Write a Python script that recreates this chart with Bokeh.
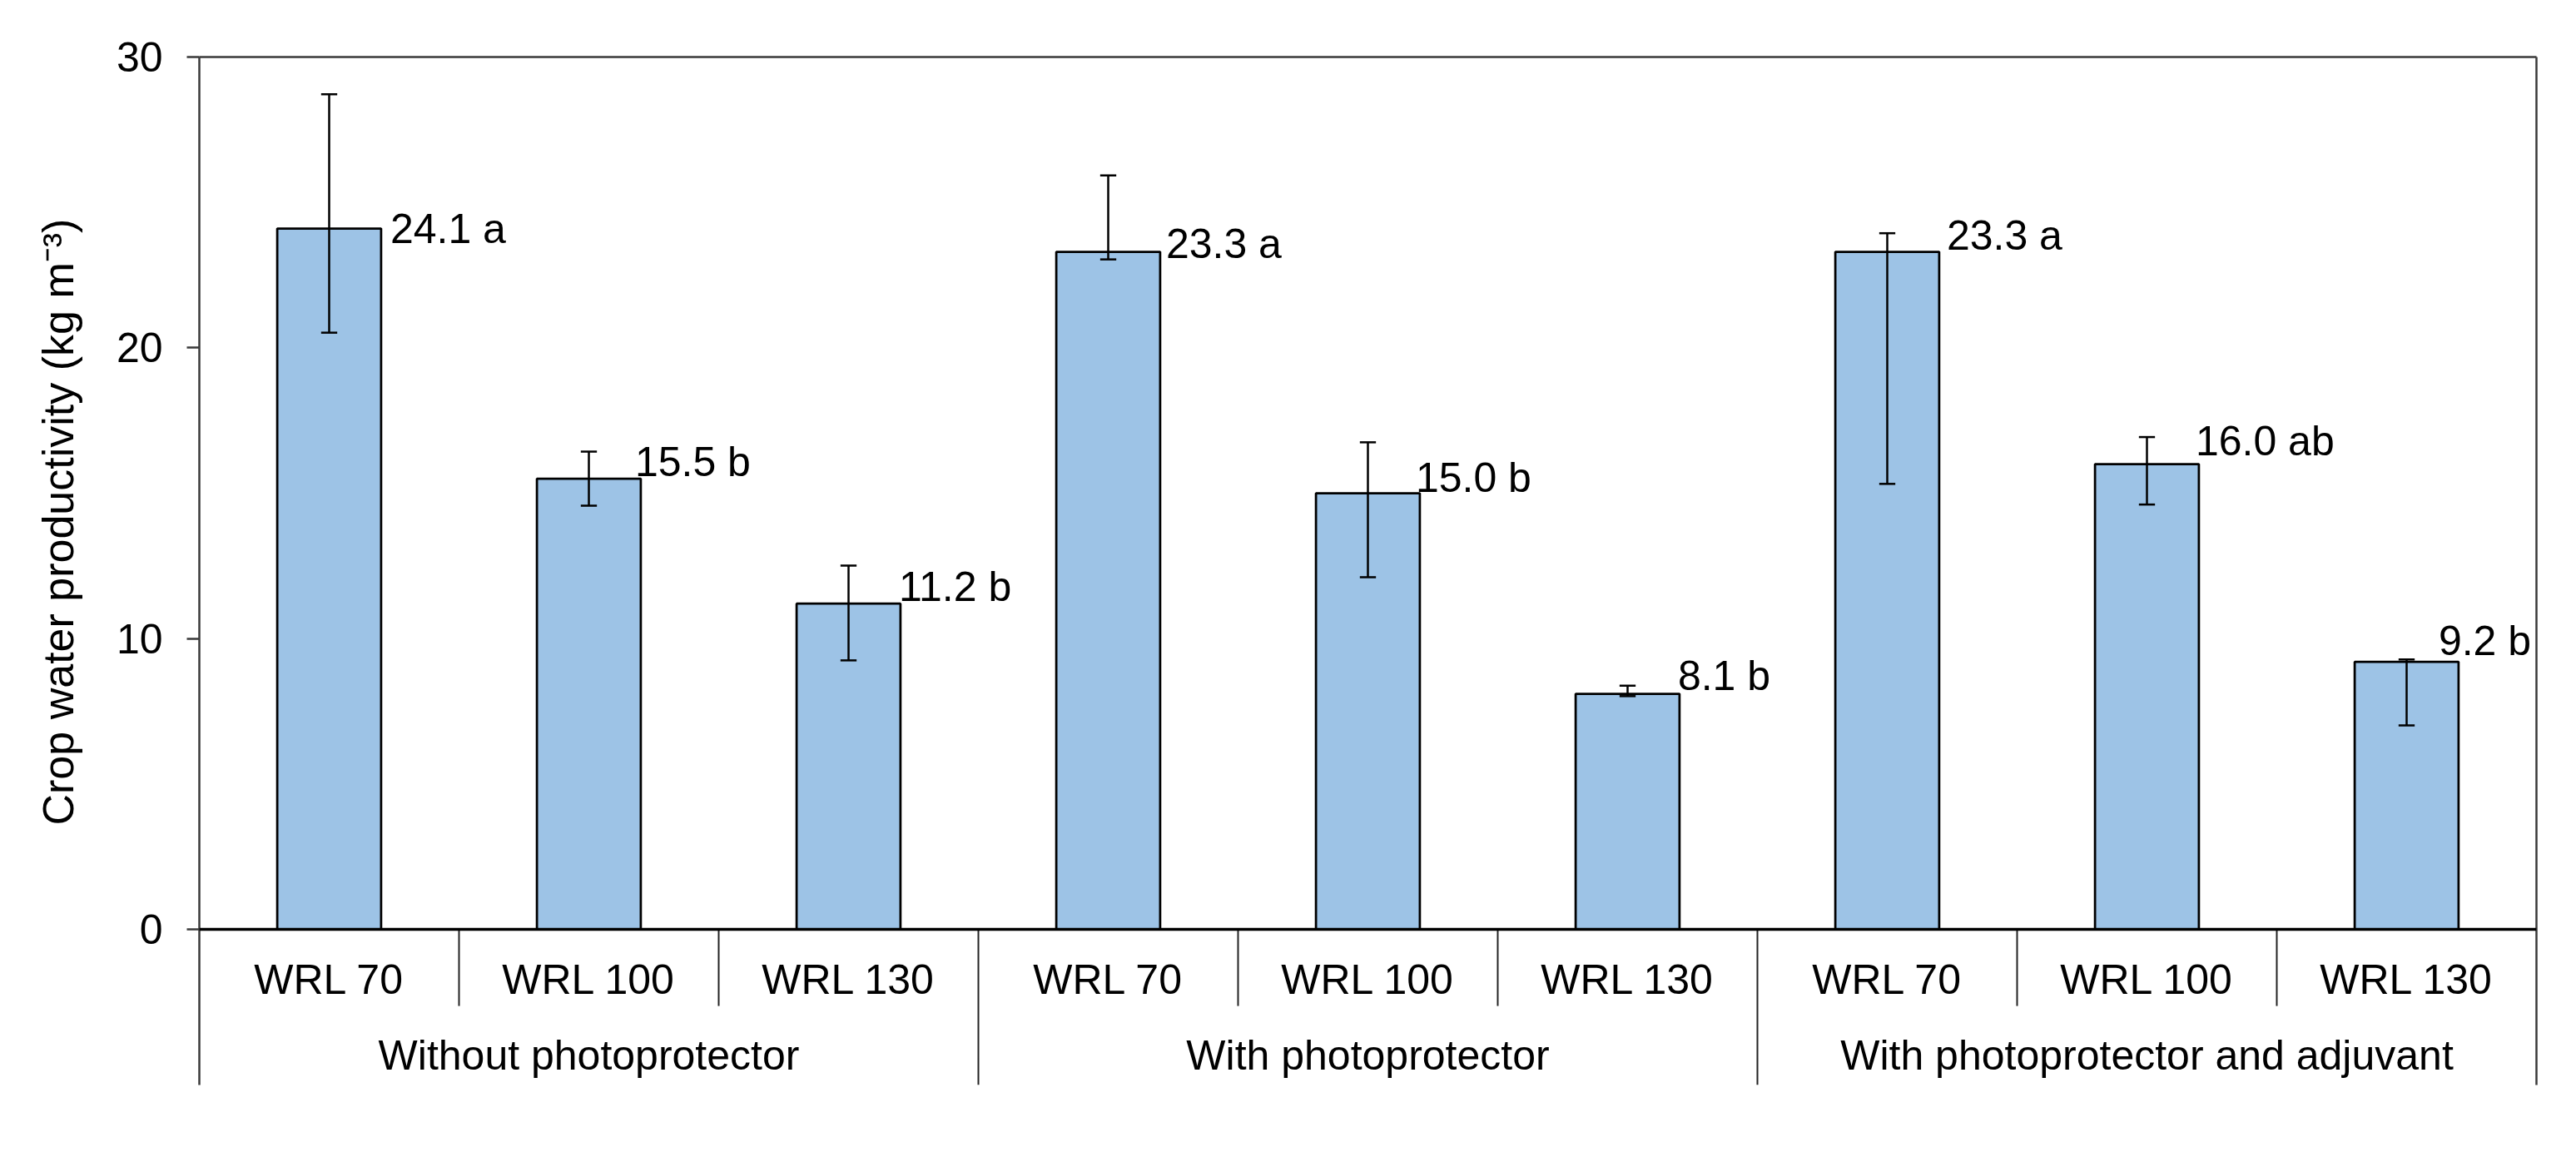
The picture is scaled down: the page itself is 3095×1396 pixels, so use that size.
from bokeh.plotting import figure
from bokeh.models import Range1d, LinearAxis, FixedTicker, Span, Title
from bokeh.core.properties import value
from bokeh.embed import file_html
from bokeh.resources import INLINE

# ---------------- data ----------------
groups = ["Without photoprotector", "With photoprotector",
          "With photoprotector and adjuvant"]
levels = ["WRL 70", "WRL 100", "WRL 130"]
means = [24.1, 15.5, 11.2, 23.3, 15.0, 8.1, 23.3, 16.0, 9.2]
err_high = [28.72, 16.43, 12.51, 25.93, 16.75, 8.38, 23.94, 16.93, 9.28]
err_low = [20.52, 14.57, 9.25, 23.04, 12.11, 8.02, 15.32, 14.61, 7.01]
letters = ["a", "b", "b", "a", "b", "b", "a", "ab", "b"]
y_ticks = [0, 10, 20, 30]
y_label = "Crop water productivity (kg m\u207b\u00b3)"

# ---------------- styles / layout ----------------
FONT = "Liberation Sans"
FS = "50px"
BAR_FILL = "#9DC3E6"
AX_COL = "#3a3a3a"
n_lev = len(levels)
n = len(groups) * n_lev
xc = [i + 0.5 for i in range(n)]
BAR_W = 0.4
CAP = 0.031
Y_TOP = 30
Y_BOT = -5.353        # bottom of the category table
SEP_IN = -2.635       # inner separator length
SUB_Y = -1.732        # centre of WRL labels
GRP_Y = -4.35         # centre of group labels
# label hand placement (pixels): offset from bar right edge / bar top
lab_dx = [11, -7, -2, 7, -5, -2, 9, -4, -24]
lab_dy = [0, -20, -20, -10, -19, -22, -20, -28, -25]

p = figure(frame_width=2808, frame_height=1235,
           min_border_left=238, min_border_right=41,
           min_border_top=68, min_border_bottom=85,
           x_range=Range1d(0, n), y_range=Range1d(Y_BOT, Y_TOP),
           x_axis_type=None, y_axis_type=None,
           output_backend="svg", toolbar_location=None)
p.outline_line_color = None
p.background_fill_color = "white"
p.border_fill_color = "white"

# left axis (ticks 0..30, line spans whole frame)
yax = LinearAxis(ticker=FixedTicker(ticks=y_ticks, minor_ticks=[]),
                 axis_line_color=AX_COL, axis_line_width=2.5,
                 major_tick_line_color=AX_COL, major_tick_line_width=2.5,
                 major_tick_in=0, major_tick_out=15,
                 minor_tick_line_color=None,
                 major_label_text_font=FONT, major_label_text_font_size=FS,
                 major_label_text_color="black", major_label_standoff=29)
p.add_layout(yax, "left")

# y axis title
p.add_layout(Title(text=y_label, align="left", offset=312, standoff=76,
                   vertical_align="bottom", text_font=FONT,
                   text_font_size="52px", text_font_style="normal",
                   text_color="black"), "left")

# right and top frame lines
for side in ("right", "above"):
    ax = LinearAxis(ticker=FixedTicker(ticks=[], minor_ticks=[]),
                    axis_line_color=AX_COL, axis_line_width=2.5,
                    major_tick_line_color=None, minor_tick_line_color=None,
                    major_label_text_font_size="0px")
    p.add_layout(ax, side)

# bars
p.vbar(x=xc, top=means, bottom=0, width=BAR_W, fill_color=BAR_FILL,
       line_color="black", line_width=2.75)

# error bars
p.segment(x0=xc, y0=err_low, x1=xc, y1=err_high, line_color="black", line_width=2.5)
p.segment(x0=[x - CAP for x in xc], y0=err_high, x1=[x + CAP for x in xc], y1=err_high,
          line_color="black", line_width=2.5)
p.segment(x0=[x - CAP for x in xc], y0=err_low, x1=[x + CAP for x in xc], y1=err_low,
          line_color="black", line_width=2.5)

# zero line
p.add_layout(Span(location=0, dimension="width", line_color="black", line_width=3.5))

# category table separators
bx, by0, by1 = [], [], []
for i in range(1, n):
    bx.append(i)
    by0.append(0)
    by1.append(Y_BOT if i % n_lev == 0 else SEP_IN)
p.segment(x0=bx, y0=by0, x1=bx, y1=by1, line_color="#222222", line_width=2)

# category labels
p.text(x=xc, y=[SUB_Y] * n, text=levels * len(groups), text_align="center",
       text_baseline="middle", text_font=value(FONT), text_font_size=FS,
       text_color="black")
gx = [g * n_lev + n_lev / 2 for g in range(len(groups))]
p.text(x=gx, y=[GRP_Y] * len(groups), text=groups, text_align="center",
       text_baseline="middle", text_font=value(FONT), text_font_size=FS,
       text_color="black")

# value labels
p.text(x=[x + BAR_W / 2 for x in xc], y=means,
       text=[f"{m:.1f} {l}" for m, l in zip(means, letters)],
       x_offset=lab_dx, y_offset=lab_dy,
       text_align="left", text_baseline="middle",
       text_font=value(FONT), text_font_size=FS, text_color="black")

open("out.html", "w").write(file_html(p, INLINE))
